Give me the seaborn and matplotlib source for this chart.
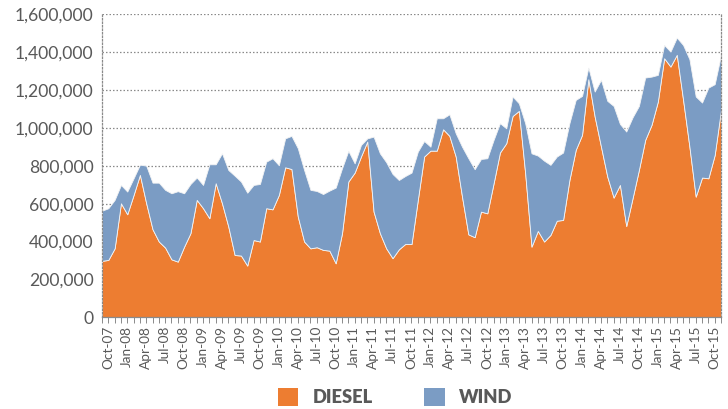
import numpy as np
import pandas as pd
import matplotlib
matplotlib.use("Agg")
import matplotlib.pyplot as plt
import matplotlib.ticker as mticker
import matplotlib.transforms as mtransforms
from matplotlib.patches import Patch
import seaborn as sns

# Monthly generation, October 2007 onward
start_month = "2007-10"
diesel = [
    298, 303, 364, 602, 544, 646, 752, 602, 465, 400, 368, 306, 294, 373, 444, 620,
    576, 523, 708, 602, 479, 329, 326, 273, 408, 400, 576, 570, 646, 792, 783, 532,
    400, 364, 370, 356, 352, 285, 444, 717, 764, 849, 928, 558, 444, 364, 312, 359,
    387, 387, 620, 849, 880, 880, 993, 958, 849, 637, 438, 423, 558, 549, 708, 870,
    919, 1063, 1090, 760, 373, 456, 400, 435, 510, 514, 725, 884, 963, 1257, 1060, 901,
    743, 632, 699, 482, 629, 778, 937, 1016, 1139, 1368, 1324, 1386, 1148, 901, 637, 738,
    734, 857, 1095,
]
wind = [
    265, 273, 256, 97, 120, 88, 54, 199, 246, 311, 305, 349, 372, 282, 260, 118,
    123, 285, 100, 264, 299, 419, 391, 385, 291, 304, 246, 270, 157, 153, 175, 361,
    378, 309, 297, 295, 317, 400, 343, 162, 49, 61, 17, 396, 422, 455, 445, 366,
    359, 377, 255, 82, 21, 171, 58, 114, 123, 264, 402, 359, 278, 291, 229, 155,
    79, 103, 40, 265, 493, 398, 427, 370, 339, 356, 300, 264, 206, 62, 132, 353,
    400, 484, 322, 499, 427, 338, 329, 255, 141, 70, 79, 91, 290, 462, 529, 396,
    479, 374, 290,
]
series_names = ["DIESEL", "WIND"]
series_colors = ["#ED7D31", "#7B9CC4"]
y_ticks = [0, 200000, 400000, 600000, 800000, 1000000, 1200000, 1400000, 1600000]

months = pd.date_range(start_month, periods=len(diesel), freq="MS")
df = pd.DataFrame({
    "month": months,
    "DIESEL": np.array(diesel) * 1000,
    "WIND": np.array(wind) * 1000,
})
df["pos"] = np.arange(len(df))

sns.set_theme(style="white")
plt.rcParams["font.family"] = ["Lato", "DejaVu Sans"]
text_grey = "#595959"
line_grey = "#8a8a8a"

fig = plt.figure(figsize=(7.28, 4.09), dpi=100)
ax = fig.add_axes([102 / 728, 1 - 317.3 / 409, (721 - 102) / 728, (317.3 - 14.3) / 409])

ax.stackplot(df["pos"], df["DIESEL"], df["WIND"], colors=series_colors,
             edgecolor="#f4f4f4", linewidth=0.6, zorder=2)

ax.set_xlim(0, len(df) - 1)
ax.set_ylim(0, 1600000)
ax.set_yticks(y_ticks)
ax.yaxis.set_major_formatter(mticker.FuncFormatter(lambda v, p: f"{int(v):,}"))
ax.grid(axis="y", linestyle=(0, (1.2, 1.6)), color=line_grey, linewidth=0.9, zorder=1)
ax.set_axisbelow(True)

ax.set_xticks(df["pos"][::3])
ax.set_xticklabels(df["month"][::3].dt.strftime("%b-%y"), rotation=90)
ax.set_xticks(df["pos"], minor=True)
ax.tick_params(axis="x", which="both", direction="out", length=4, width=0.7,
               color=line_grey, labelsize=9.8, labelcolor=text_grey, pad=2, bottom=True)
ax.tick_params(axis="y", length=0, labelsize=12.6, labelcolor=text_grey, pad=6)

# rotated month labels sit slightly right of their tick
shift = mtransforms.ScaledTranslation(6 / 100, 0, fig.dpi_scale_trans)
for lab in ax.get_xticklabels():
    lab.set_transform(lab.get_transform() + shift)

for side in ["left", "right"]:
    ax.spines[side].set_linestyle((0, (1.2, 1.6)))
    ax.spines[side].set_color(line_grey)
    ax.spines[side].set_linewidth(0.9)
ax.spines["top"].set_visible(False)
ax.spines["bottom"].set_color(line_grey)
ax.spines["bottom"].set_linewidth(0.9)
ax.set_xlabel("")
ax.set_ylabel("")

handles = [Patch(facecolor=c, edgecolor="none") for c in series_colors]
leg = fig.legend(handles, series_names, loc="center", bbox_to_anchor=(0.543, 1 - 397 / 409),
                 ncol=2, frameon=False, handlelength=1.1, handleheight=1.2,
                 columnspacing=2.8, handletextpad=0.8,
                 prop={"weight": "heavy", "size": 13.2})
for t in leg.get_texts():
    t.set_color(text_grey)

fig.savefig("out.png", dpi=100)
